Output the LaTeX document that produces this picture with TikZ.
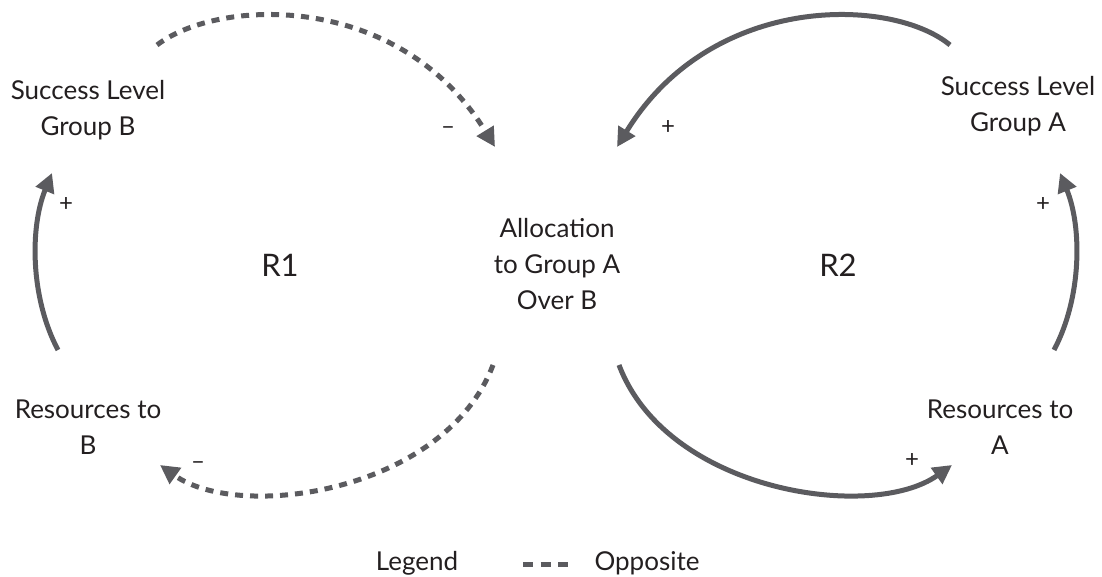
\documentclass[tikz,border=0pt]{standalone}
\usepackage{fontspec}
\setmainfont{Lato}
\usetikzlibrary{arrows.meta}
\definecolor{loopgray}{HTML}{5B5B5F}
\definecolor{txt}{HTML}{231F20}
\tikzset{
  var/.style={align=center,font=\fontsize{26}{36}\selectfont,text=txt},
  link/.style={draw=loopgray,line width=5pt,-{Triangle[length=19pt,width=19pt]}},
  opp/.style={link,dash pattern=on 8pt off 7pt},
  sgn/.style={font=\fontsize{24}{24}\selectfont,text=txt},
  loopname/.style={font=\fontsize{31}{31}\selectfont,text=txt}
}
\begin{document}
\begin{tikzpicture}[x=1pt,y=1pt]
\useasboundingbox (0,0) rectangle (1102,577);
% variables
\node[var] (sB) at (88,467) {Success Level\\Group B};
\node[var] (rB) at (88,150) {Resources to\\B};
\node[var] (sA) at (1018,471) {Success Level\\Group A};
\node[var] (rA) at (1000,150) {Resources to\\A};
\node[var] (alloc) at (557,313) {Allocation\\to Group A\\Over B};
\node[loopname] (r1) at (280,312) {R1};
\node[loopname] (r2) at (838,312) {R2};
% link ends
\coordinate (sBout) at (157,532);
\coordinate (allocinB) at (495,430);
\coordinate (sAout) at (950,532);
\coordinate (allocinA) at (617,430);
\coordinate (allocoutB) at (493,212);
\coordinate (rBin) at (160,112);
\coordinate (allocoutA) at (619,212);
\coordinate (rAin) at (952,112);
\coordinate (rBout) at (58,227);
\coordinate (sBin) at (52,404);
\coordinate (rAout) at (1054,227);
\coordinate (sAin) at (1060,404);
% loop R1
\draw[opp] (sBout) .. controls (220,580) and (400,585) .. (allocinB);
\draw[opp] (allocoutB) .. controls (445,85) and (240,55) .. (rBin);
\draw[link] (rBout) .. controls (30,280) and (30,350) .. (sBin);
% loop R2
\draw[link] (sAout) .. controls (892,580) and (712,585) .. (allocinA);
\draw[link] (allocoutA) .. controls (667,85) and (872,55) .. (rAin);
\draw[link] (rAout) .. controls (1082,280) and (1082,350) .. (sAin);
% polarities
\node[sgn] (p1) at (448,446) {–};
\node[sgn] (p2) at (668,449) {+};
\node[sgn] (p3) at (66,372) {+};
\node[sgn] (p4) at (1043,372) {+};
\node[sgn] (p5) at (198,111) {–};
\node[sgn] (p6) at (912,116) {+};
% legend
\node[var] (leg) at (417,14) {Legend};
\node[var] (oppkey) at (647,14) {Opposite};
\coordinate (k1) at (523,12);
\coordinate (k2) at (568,12);
\draw[draw=loopgray,line width=5pt,dash pattern=on 10pt off 7.5pt] (k1) -- (k2);
\end{tikzpicture}
\end{document}
